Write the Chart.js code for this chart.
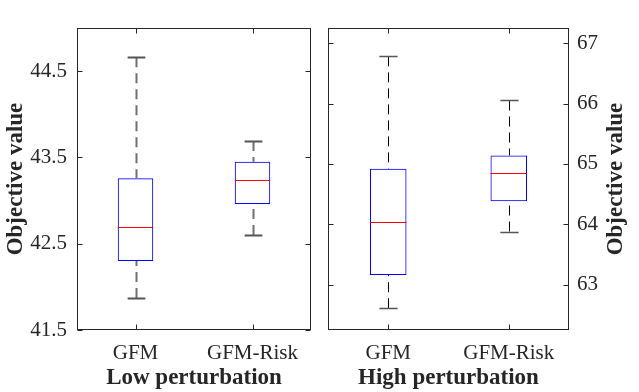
<!DOCTYPE html>
<html>
<head>
<meta charset="utf-8">
<script src="https://cdn.jsdelivr.net/npm/chart.js@4.4.1/dist/chart.umd.min.js"></script>
<style>
html,body{margin:0;padding:0;background:#fff;width:639px;height:392px;overflow:hidden}
canvas{position:absolute;top:0}
#c1{left:0}
#c2{left:320px}
</style>
</head>
<body>
<canvas id="c1" width="320" height="392"></canvas>
<canvas id="c2" width="319" height="392"></canvas>
<script>
// ---- data ----
const categories = ['GFM', 'GFM-Risk'];
const lowMin    = [41.87, 42.60];
const lowQ1     = [42.30, 42.96];
const lowMedian = [42.69, 43.24];
const lowQ3     = [43.26, 43.45];
const lowMax    = [44.66, 43.69];
const highMin    = [62.61, 63.88];
const highQ1     = [63.16, 64.38];
const highMedian = [64.03, 64.85];
const highQ3     = [64.92, 65.14];
const highMax    = [66.78, 66.05];
const lowTicks  = [41.5, 42.5, 43.5, 44.5];
const highTicks = [63, 64, 65, 66, 67];
const yTitle    = 'Objective value';
const lowTitle  = 'Low perturbation';
const highTitle = 'High perturbation';

// ---- styling ----
const FONT = "'Liberation Serif', 'Times New Roman', serif";
const TXT = '#262626';

function boxPlugin(stats, style) {
  return {
    id: 'boxExtras',
    afterDatasetsDraw(chart) {
      const ctx = chart.ctx, y = chart.scales.y;
      const meta = chart.getDatasetMeta(0);
      ctx.save();
      const line = (x1, y1, x2, y2) => { ctx.beginPath(); ctx.moveTo(x1, y1); ctx.lineTo(x2, y2); ctx.stroke(); };
      meta.data.forEach((bar, i) => {
        const cx = Math.round(bar.x) + 0.5;
        const half = bar.width / 2, cap = bar.width / 4;
        const pMin = y.getPixelForValue(stats.min[i]);
        const pQ1 = y.getPixelForValue(stats.q1[i]);
        const pMed = Math.round(y.getPixelForValue(stats.med[i])) + 0.5;
        const pQ3 = y.getPixelForValue(stats.q3[i]);
        const pMax = y.getPixelForValue(stats.max[i]);
        ctx.strokeStyle = style.whisker; ctx.lineWidth = style.whiskerWidth;
        ctx.setLineDash([10, 6]);
        line(cx, pMax, cx, pQ3);
        line(cx, pMin, cx, pQ1);
        ctx.setLineDash([]);
        ctx.strokeStyle = style.cap; ctx.lineWidth = style.capWidth;
        line(cx - cap, Math.round(pMax) + 0.5, cx + cap, Math.round(pMax) + 0.5);
        line(cx - cap, Math.round(pMin) + 0.5, cx + cap, Math.round(pMin) + 0.5);
        ctx.strokeStyle = '#ff0000'; ctx.lineWidth = 1;
        line(bar.x - half, pMed, bar.x + half, pMed);
      });
      ctx.restore();
    }
  };
}

function framePlugin(extraTitle) {
  return {
    id: 'frame',
    afterDraw(chart) {
      const ctx = chart.ctx, a = chart.chartArea;
      const L = Math.round(a.left) + 0.5, R = Math.round(a.right) - 0.5;
      const T = Math.round(a.top) + 0.5, B = Math.round(a.bottom) - 0.5;
      ctx.save();
      ctx.strokeStyle = TXT; ctx.lineWidth = 1;
      ctx.strokeRect(L, T, R - L, B - T);
      const line = (x1, y1, x2, y2) => { ctx.beginPath(); ctx.moveTo(x1, y1); ctx.lineTo(x2, y2); ctx.stroke(); };
      const ys = chart.scales.y, xs = chart.scales.x;
      ys.ticks.forEach((t, i) => {
        const py = Math.round(ys.getPixelForTick(i)) + 0.5;
        line(L, py, L + 5, py); line(R, py, R - 5, py);
      });
      xs.ticks.forEach((t, i) => {
        const px = Math.round(xs.getPixelForTick(i)) + 0.5;
        line(px, B, px, B - 5); line(px, T, px, T + 5);
      });
      if (extraTitle) {
        ctx.translate(extraTitle.x, (a.top + a.bottom) / 2);
        ctx.rotate(-Math.PI / 2);
        ctx.fillStyle = TXT;
        ctx.font = 'bold 23px ' + FONT;
        ctx.textAlign = 'center';
        ctx.textBaseline = 'middle';
        ctx.fillText(extraTitle.text, 0, 0);
      }
      ctx.restore();
    }
  };
}

function makeChart(id, q1, q3, stats, ticksArr, yMin, yMax, xTitle, side, style) {
  const isLeft = side === 'left';
  return new Chart(document.getElementById(id), {
    type: 'bar',
    data: {
      labels: categories,
      datasets: [{
        data: categories.map((c, i) => [q1[i], q3[i]]),
        backgroundColor: 'rgba(0,0,0,0)',
        borderColor: '#0000ff',
        borderWidth: style.boxWidth,
        borderSkipped: false,
        barPercentage: 0.303,
        categoryPercentage: 1
      }]
    },
    options: {
      responsive: false,
      animation: false,
      events: [],
      layout: { padding: isLeft ? { top: 28, right: 9, left: 0, bottom: 0 } : { top: 28, right: 0, left: 8, bottom: 0 } },
      plugins: { legend: { display: false }, tooltip: { enabled: false } },
      scales: {
        x: {
          type: 'category',
          offset: true,
          grid: { display: false, drawTicks: false },
          border: { display: false },
          ticks: { color: TXT, font: { family: FONT, size: 21 }, padding: 11, maxRotation: 0 },
          title: { display: true, text: xTitle, color: TXT, font: { family: FONT, size: 23, weight: 'bold' }, padding: 0 },
          afterFit(s) { s.height = 62; }
        },
        y: {
          position: side,
          min: yMin,
          max: yMax,
          afterBuildTicks(s) { s.ticks = ticksArr.map(v => ({ value: v })); },
          grid: { display: false, drawTicks: false },
          border: { display: false },
          ticks: {
            color: TXT,
            font: { family: FONT, size: 21 },
            padding: isLeft ? 10 : 8,
            callback: v => isLeft ? Number(v).toFixed(1) : String(v)
          },
          title: isLeft
            ? { display: true, text: yTitle, color: TXT, font: { family: FONT, size: 23, weight: 'bold' }, padding: { top: 2, bottom: 0 } }
            : { display: false },
          afterFit(s) { s.width = isLeft ? 77 : 70; }
        }
      }
    },
    plugins: [boxPlugin(stats, style), framePlugin(isLeft ? null : { x: 296, text: yTitle })]
  });
}

makeChart('c1', lowQ1, lowQ3,
  { min: lowMin, q1: lowQ1, med: lowMedian, q3: lowQ3, max: lowMax },
  lowTicks, 41.5, 45, lowTitle, 'left',
  { whisker: '#707070', whiskerWidth: 2, cap: '#555555', capWidth: 2, boxWidth: 1 });

makeChart('c2', highQ1, highQ3,
  { min: highMin, q1: highQ1, med: highMedian, q3: highQ3, max: highMax },
  highTicks, 62.25, 67.25, highTitle, 'right',
  { whisker: '#000000', whiskerWidth: 1, cap: '#555555', capWidth: 1.5, boxWidth: 1 });
</script>
</body>
</html>
